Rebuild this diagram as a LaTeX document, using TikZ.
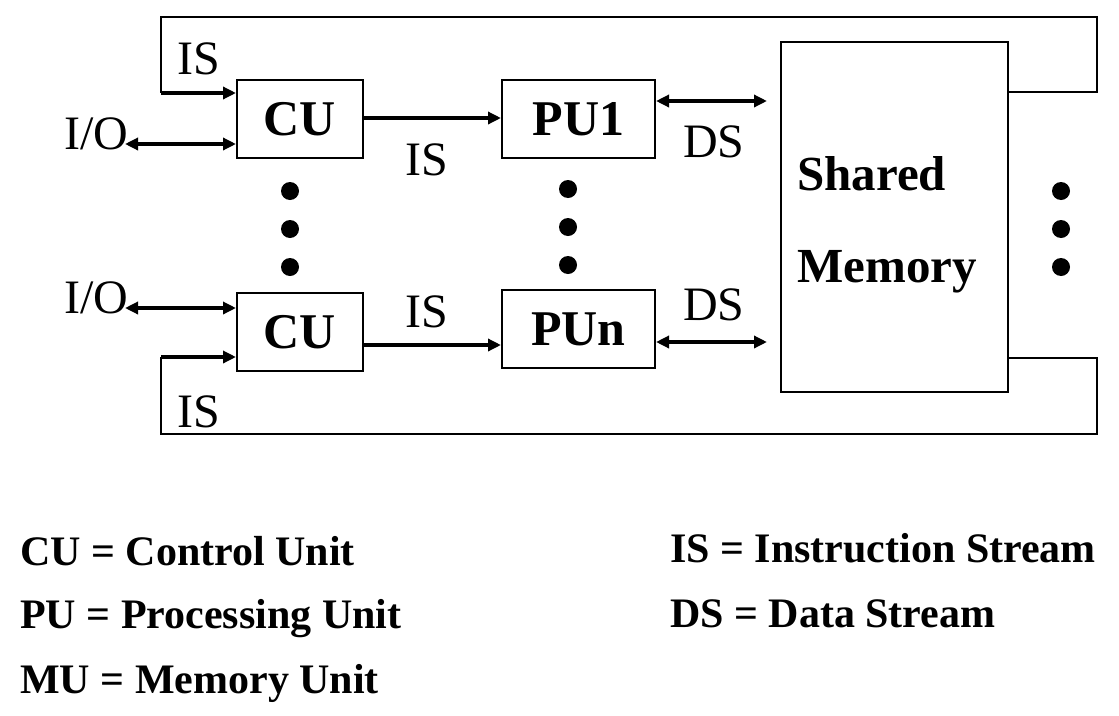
\documentclass[tikz,border=0pt]{standalone}
\usepackage{fontspec}
\setmainfont{Liberation Serif}
\usetikzlibrary{arrows.meta,calc}
\begin{document}
\begin{tikzpicture}[x=1pt,y=-1pt,
  unitbox/.style={draw,line width=2pt,inner sep=0pt,font=\fontsize{50}{58}\selectfont\bfseries},
  lbl/.style={inner sep=0pt,anchor=base west,font=\fontsize{48}{58}\selectfont},
  leg/.style={inner sep=0pt,anchor=base west,font=\fontsize{42}{50}\selectfont\bfseries},
  flow/.style={line width=3.5pt,-{Triangle[length=13pt,width=12pt]}},
  biflow/.style={line width=3.5pt,{Triangle[length=13pt,width=12pt]}-{Triangle[length=13pt,width=12pt]}},
  loop/.style={line width=2.2pt},
  dot/.style={circle,fill=black,inner sep=0pt,minimum size=18pt}]
\useasboundingbox (0,0) rectangle (1119,715);
% boxes
\node[unitbox,minimum width=126pt,minimum height=78pt] (CU1) at (300,119) {CU};
\node[unitbox,minimum width=126pt,minimum height=78pt] (CUn) at (300,332) {CU};
\node[unitbox,minimum width=153pt,minimum height=78pt] (PU1) at (578.5,119) {PU1};
\node[unitbox,minimum width=153pt,minimum height=78pt] (PUn) at (578.5,329) {PUn};
\node[draw,line width=2pt,minimum width=227pt,minimum height=350pt,inner sep=0pt] (MEM) at (894.5,217) {};
\node[leg,font=\fontsize{49}{58}\selectfont\bfseries] (sh) at (797,190) {Shared};
\node[leg,font=\fontsize{49}{58}\selectfont\bfseries] (me) at (797,282) {Memory};
% coordinates for free ends
\coordinate (io1) at (125,144);
\coordinate (ion) at (125,308);
\coordinate (ds1) at (767,101);
\coordinate (dsn) at (767,342);
% IS arrows CU->PU
\draw[flow] (CU1.east |- 0,118) -- (PU1.west |- 0,118);
\draw[flow] (CUn.east |- 0,345) -- (PUn.west |- 0,345);
% IO arrows
\draw[biflow] (io1) -- (CU1.west |- io1);
\draw[biflow] (ion) -- (CUn.west |- ion);
% DS arrows
\draw[biflow] (PU1.east |- ds1) -- (ds1);
\draw[biflow] (PUn.east |- dsn) -- (dsn);
% loops
\draw[loop] (MEM.east |- 0,92) -- (1097,92) -- (1097,17) -- (161,17) -- (161,93);
\draw[flow] (161,93) -- (CU1.west |- 0,93);
\draw[loop] (MEM.east |- 0,358) -- (1097,358) -- (1097,434) -- (161,434) -- (161,357);
\draw[flow] (161,357) -- (CUn.west |- 0,357);
% labels
\node[lbl] (l1) at (177,74) {IS};
\node[lbl] (l2) at (64,149) {I/O};
\node[lbl] (l3) at (405,175) {IS};
\node[lbl] (l4) at (683,157) {DS};
\node[lbl] (l5) at (405,327) {IS};
\node[lbl] (l6) at (683,320) {DS};
\node[lbl] (l7) at (64,313) {I/O};
\node[lbl] (l8) at (177,427) {IS};
% dots
\foreach \y [count=\i] in {191,229,267}{
  \node[dot] (a\i) at (290,\y) {};
  \node[dot] (b\i) at (568,\y-2) {};
  \node[dot] (c\i) at (1061,\y) {};
}
% legend
\node[leg] (g1) at (20,565) {CU = Control Unit};
\node[leg] (g2) at (20,628) {PU = Processing Unit};
\node[leg] (g3) at (20,693) {MU = Memory Unit};
\node[leg] (g4) at (670,562) {IS = Instruction Stream};
\node[leg] (g5) at (670,627) {DS = Data Stream};
\end{tikzpicture}
\end{document}
